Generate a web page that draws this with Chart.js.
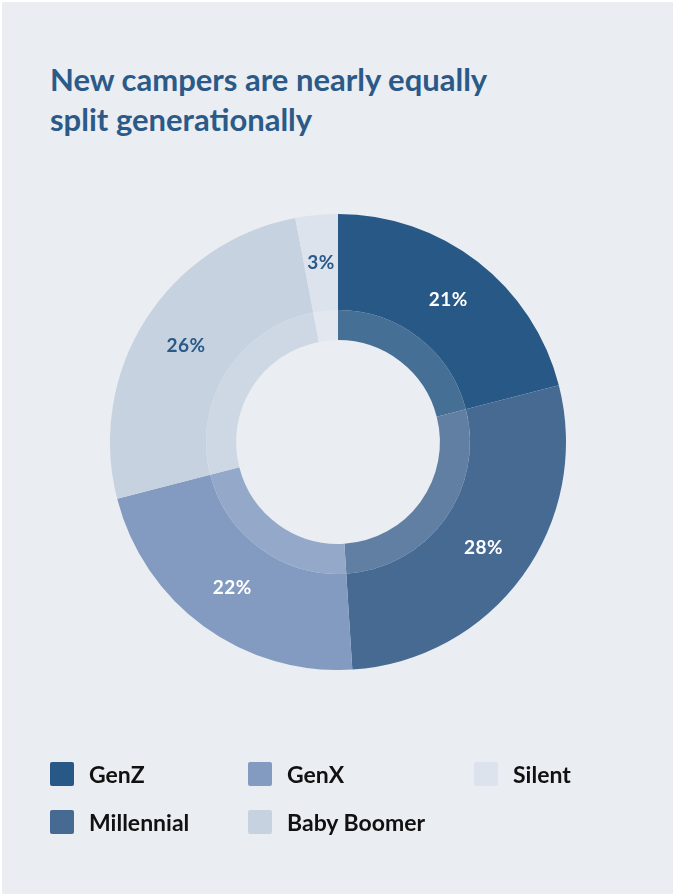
<!DOCTYPE html>
<html>
<head>
<meta charset="utf-8">
<script src="https://cdn.jsdelivr.net/npm/chart.js@4/dist/chart.umd.min.js"></script>
<style>
  html, body { margin: 0; padding: 0; background: #ffffff; }
  body { width: 673px; height: 894px; position: relative; overflow: hidden; font-family: Lato, "Open Sans", sans-serif; }
  #card { position: absolute; left: 2px; top: 2px; width: 671px; height: 892px; background: #eaedf2; }
  #title { position: absolute; left: 50px; top: 59px; margin: 0; font-family: Lato, sans-serif; font-weight: 700; font-size: 31px; line-height: 40px; color: #2b5a88; letter-spacing: 0px; }
  #chartWrap { position: absolute; left: 110px; top: 214px; width: 456px; height: 456px; }
  #legend { position: absolute; left: 0; top: 0; width: 673px; height: 894px; pointer-events: none; }
  .item { position: absolute; display: flex; align-items: center; height: 24px; font-family: Lato, sans-serif; font-weight: 700; font-size: 23px; color: #111111; }
  .sw { width: 24px; height: 24px; border-radius: 2px; margin-right: 15px; flex: none; }
</style>
</head>
<body>
<div id="card"></div>
<h1 id="title">New campers are nearly equally<br>split generationally</h1>
<div id="chartWrap"><canvas id="c" width="456" height="456"></canvas></div>
<div id="legend"></div>
<script>
const categories = ["GenZ", "Millennial", "GenX", "Baby Boomer", "Silent"];
const shares = [21, 28, 22, 26, 3];
const valueLabels = ["21%", "28%", "22%", "26%", "3%"];

const colors = ["#285885", "#476a93", "#839bc1", "#c6d2e0", "#dde3ed"];
const labelColors = ["#ffffff", "#ffffff", "#ffffff", "#2b5a88", "#2b5a88"];

function lighten(hex, a) {
  const n = parseInt(hex.slice(1), 16);
  const r = (n >> 16) & 255, g = (n >> 8) & 255, b = n & 255;
  const m = v => Math.round(v + (255 - v) * a);
  return "rgb(" + m(r) + "," + m(g) + "," + m(b) + ")";
}
const innerColors = colors.map(c => lighten(c, 0.14));

const labelPlugin = {
  id: "sliceLabels",
  afterDatasetsDraw(chart) {
    const ctx = chart.ctx;
    const meta = chart.getDatasetMeta(0);
    ctx.save();
    ctx.font = "700 19px Lato, sans-serif";
    if ("letterSpacing" in ctx) ctx.letterSpacing = "0.5px";
    ctx.textAlign = "center";
    ctx.textBaseline = "middle";
    meta.data.forEach((arc, i) => {
      const mid = (arc.startAngle + arc.endAngle) / 2;
      const r = (arc.innerRadius + arc.outerRadius) / 2;
      const x = arc.x + Math.cos(mid) * r;
      const y = arc.y + Math.sin(mid) * r;
      ctx.fillStyle = labelColors[i];
      ctx.fillText(valueLabels[i], x, y);
    });
    ctx.restore();
  }
};

new Chart(document.getElementById("c"), {
  type: "doughnut",
  data: {
    labels: categories,
    datasets: [
      { data: shares, backgroundColor: colors, borderWidth: 0, weight: 96 },
      { data: shares, backgroundColor: innerColors, borderWidth: 0, weight: 30 }
    ]
  },
  options: {
    responsive: false,
    animation: false,
    cutout: "44.7%",
    layout: { padding: 0 },
    plugins: { legend: { display: false }, tooltip: { enabled: false } },
    events: []
  },
  plugins: [labelPlugin]
});

// legend built from the categories
const legendPos = [
  [50, 762], [50, 810], [248, 762], [248, 810], [474, 762]
];
const lg = document.getElementById("legend");
categories.forEach((name, i) => {
  const d = document.createElement("div");
  d.className = "item";
  d.style.left = legendPos[i][0] + "px";
  d.style.top = legendPos[i][1] + "px";
  d.innerHTML = '<span class="sw" style="background:' + colors[i] + '"></span><span>' + name + '</span>';
  lg.appendChild(d);
});
</script>
</body>
</html>
